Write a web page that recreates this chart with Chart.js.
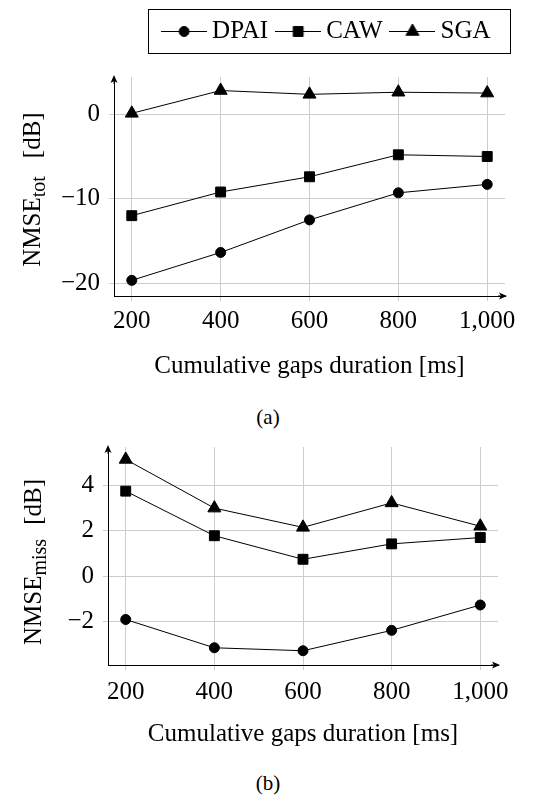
<!DOCTYPE html>
<html>
<head>
<meta charset="utf-8">
<script src="https://cdn.jsdelivr.net/npm/chart.js@4/dist/chart.umd.min.js"></script>
<style>
body { margin: 0; background: #fff; width: 557px; height: 796px; position: relative; overflow: hidden; font-family: 'Liberation Serif', serif; }
#boxA { position: absolute; left: 0; top: 0; width: 557px; height: 390px; }
#boxB { position: absolute; left: 0; top: 420px; width: 557px; height: 340px; }
.cap { position: absolute; left: 0; width: 536px; text-align: center; font-size: 21px; line-height: 24px; color: #000; }
</style>
</head>
<body>
<div id="boxA"><canvas id="chartA"></canvas></div>
<div class="cap" style="top:405px">(a)</div>
<div id="boxB"><canvas id="chartB"></canvas></div>
<div class="cap" style="top:771px">(b)</div>
<script>
// cumulative gap duration [ms]
var durations = [200, 400, 600, 800, 1000];

// (a) NMSE_tot [dB]
var dpaiTot = [-19.65, -16.35, -12.5, -9.3, -8.3];
var cawTot = [-12.0, -9.2, -7.4, -4.8, -5.0];
var sgaTot = [0.1, 2.8, 2.35, 2.6, 2.5];

// (b) NMSE_miss [dB]
var dpaiMiss = [-1.92, -3.17, -3.3, -2.4, -1.28];
var cawMiss = [3.75, 1.78, 0.74, 1.42, 1.7];
var sgaMiss = [5.15, 3.0, 2.15, 3.23, 2.2];

var xTicks = [200, 400, 600, 800, 1000];
var yTicksTot = [-20, -10, 0];
var yTicksMiss = [-2, 0, 2, 4];

var serif = 'Liberation Serif';
var gridColor = '#cdcdcd';

function pts(ys) {
    return durations.map(function (d, i) { return {x: d, y: ys[i]}; });
}

function series(label, ys, style, r) {
    return {
        label: label,
        data: pts(ys),
        borderColor: '#000',
        backgroundColor: '#000',
        borderWidth: 1,
        pointStyle: style,
        pointRadius: r,
        pointHoverRadius: r,
        pointBackgroundColor: '#000',
        pointBorderColor: '#000',
        pointBorderWidth: 1,
        tension: 0,
        fill: false
    };
}

// little "line + marker" pictures for the legend
function legendIcon(style, r) {
    var c = document.createElement('canvas');
    c.width = 46;
    c.height = 18;
    var g = c.getContext('2d');
    g.strokeStyle = '#000';
    g.fillStyle = '#000';
    g.lineWidth = 1;
    g.beginPath();
    g.moveTo(0, 9.5);
    g.lineTo(46, 9.5);
    g.stroke();
    Chart.helpers.drawPoint(g, {pointStyle: style, radius: r, borderWidth: 1, rotation: 0}, 23, 9.5);
    return c;
}

var icons = [legendIcon('circle', 5), legendIcon('rect', 7), legendIcon('triangle', 7.5)];

// rotated y title with a subscript
var yTitle = {
    id: 'yTitle',
    afterDraw: function (chart, args, o) {
        if (!o.main) return;
        var ctx = chart.ctx, a = chart.chartArea;
        var big = '25px "' + serif + '"', small = '20px "' + serif + '"';
        ctx.save();
        ctx.fillStyle = '#000';
        ctx.textBaseline = 'alphabetic';
        ctx.textAlign = 'left';
        ctx.font = big;
        var w1 = ctx.measureText(o.main).width, w3 = ctx.measureText(o.unit).width;
        ctx.font = small;
        var w2 = ctx.measureText(o.sub).width;
        var total = w1 + w2 + o.gap + w3;
        ctx.translate(o.x, (a.top + a.bottom) / 2 + o.dy);
        ctx.rotate(-Math.PI / 2);
        var x = -total / 2;
        ctx.font = big;
        ctx.fillText(o.main, x, 0);
        x += w1;
        ctx.font = small;
        ctx.fillText(o.sub, x, 5);
        x += w2 + o.gap;
        ctx.font = big;
        ctx.fillText(o.unit, x, 0);
        ctx.restore();
    }
};

// arrow heads at the end of both axes
var axisArrows = {
    id: 'axisArrows',
    afterDraw: function (chart) {
        var ctx = chart.ctx, a = chart.chartArea;
        ctx.save();
        ctx.fillStyle = '#000';
        var x = a.left, y = a.top - 2;
        ctx.beginPath();
        ctx.moveTo(x, y);
        ctx.lineTo(x - 3.5, y + 8);
        ctx.lineTo(x, y + 6);
        ctx.lineTo(x + 3.5, y + 8);
        ctx.closePath();
        ctx.fill();
        ctx.fillRect(x - 0.5, y + 5, 1, 4);
        x = a.right + 2;
        y = a.bottom;
        ctx.beginPath();
        ctx.moveTo(x, y);
        ctx.lineTo(x - 8, y - 3.5);
        ctx.lineTo(x - 6, y);
        ctx.lineTo(x - 8, y + 3.5);
        ctx.closePath();
        ctx.fill();
        ctx.fillRect(x - 9, y - 0.5, 4, 1);
        ctx.restore();
    }
};

// extra room under the legend + the frame around it
var legendFrame = {
    id: 'legendFrame',
    afterInit: function (chart) {
        var lg = chart.legend;
        if (!lg || lg._patched) return;
        var fit = lg.fit;
        lg.fit = function () {
            fit.call(this);
            if (this.options.display) this.height += 23.5;
        };
        lg._patched = true;
    },
    afterDraw: function (chart) {
        var lg = chart.legend;
        if (!lg || !lg.options.display) return;
        var hb = lg.legendHitBoxes;
        var first = hb[0], last = hb[hb.length - 1];
        var ctx = chart.ctx;
        var left = Math.round(first.left - 21) + 0.5;
        var right = Math.round(last.left + last.width + 19) + 0.5;
        var top = Math.round(lg.top + 5) + 0.5;
        ctx.save();
        ctx.strokeStyle = '#000';
        ctx.lineWidth = 1;
        ctx.strokeRect(left, top, right - left, 44);
        ctx.restore();
    }
};

function minus(v) {
    return String(v).replace('-', '\u2212');
}

function makeChart(id, sets, yTicks, yMin, yMax, cfg) {
    var ctx = document.getElementById(id).getContext('2d');
    return new Chart(ctx, {
        type: 'line',
        data: {
            datasets: [
                series('DPAI', sets[0], 'circle', 5),
                series('CAW', sets[1], 'rect', 7),
                series('SGA', sets[2], 'triangle', 7.5)
            ]
        },
        options: {
            responsive: true,
            maintainAspectRatio: false,
            animation: false,
            devicePixelRatio: 1,
            events: [],
            layout: {padding: cfg.padding},
            plugins: {
                tooltip: {enabled: false},
                legend: {
                    display: cfg.legend,
                    position: 'top',
                    fullSize: false,
                    align: 'end',
                    labels: {
                        usePointStyle: true,
                        pointStyleWidth: 31,
                        padding: 14.5,
                        color: '#000',
                        font: {family: serif, size: 25},
                        generateLabels: function (chart) {
                            var items = Chart.defaults.plugins.legend.labels.generateLabels(chart);
                            items.forEach(function (it, i) { it.pointStyle = icons[i]; });
                            return items;
                        }
                    }
                },
                yTitle: cfg.yTitle
            },
            scales: {
                x: {
                    type: 'linear',
                    min: 160,
                    max: 1040,
                    afterBuildTicks: function (s) {
                        s.ticks = xTicks.map(function (v) { return {value: v}; });
                    },
                    afterFit: function (s) { s.height = cfg.xHeight; },
                    ticks: {
                        autoSkip: false,
                        maxRotation: 0,
                        padding: cfg.tickPad,
                        color: '#000',
                        font: {family: serif, size: 25},
                        callback: function (v) { return v.toLocaleString('en-US'); }
                    },
                    grid: {color: gridColor, lineWidth: 1, tickLength: 5},
                    border: {color: '#000', width: 1},
                    title: {
                        display: true,
                        text: 'Cumulative gaps duration [ms]',
                        color: '#000',
                        font: {family: serif, size: 25},
                        padding: {top: 0, bottom: cfg.titlePad}
                    }
                },
                y: {
                    min: yMin,
                    max: yMax,
                    afterBuildTicks: function (s) {
                        s.ticks = yTicks.map(function (v) { return {value: v}; });
                    },
                    afterFit: function (s) { s.width = cfg.yWidth; },
                    ticks: {
                        padding: 9,
                        color: '#000',
                        font: {family: serif, size: 25},
                        callback: function (v) { return minus(v); }
                    },
                    grid: {color: gridColor, lineWidth: 1, tickLength: 5},
                    border: {color: '#000', width: 1}
                }
            }
        },
        plugins: [yTitle, axisArrows, legendFrame]
    });
}

makeChart('chartA', [dpaiTot, cawTot, sgaTot], yTicksTot, -21.5, 4.4, {
    padding: {top: 4, left: 0, right: 52, bottom: 5},
    legend: true,
    xHeight: 89,
    titlePad: 4,
    tickPad: 5,
    yWidth: 114,
    yTitle: {main: 'NMSE', sub: 'tot', unit: '[dB]', gap: 18, x: 40, dy: 3}
});

makeChart('chartB', [dpaiMiss, cawMiss, sgaMiss], yTicksMiss, -3.93, 5.7, {
    padding: {top: 27, left: 0, right: 59, bottom: 5},
    legend: false,
    xHeight: 90,
    titlePad: 6,
    tickPad: 7,
    yWidth: 108,
    yTitle: {main: 'NMSE', sub: 'miss', unit: '[dB]', gap: 14, x: 41, dy: 6}
});
</script>
</body>
</html>
